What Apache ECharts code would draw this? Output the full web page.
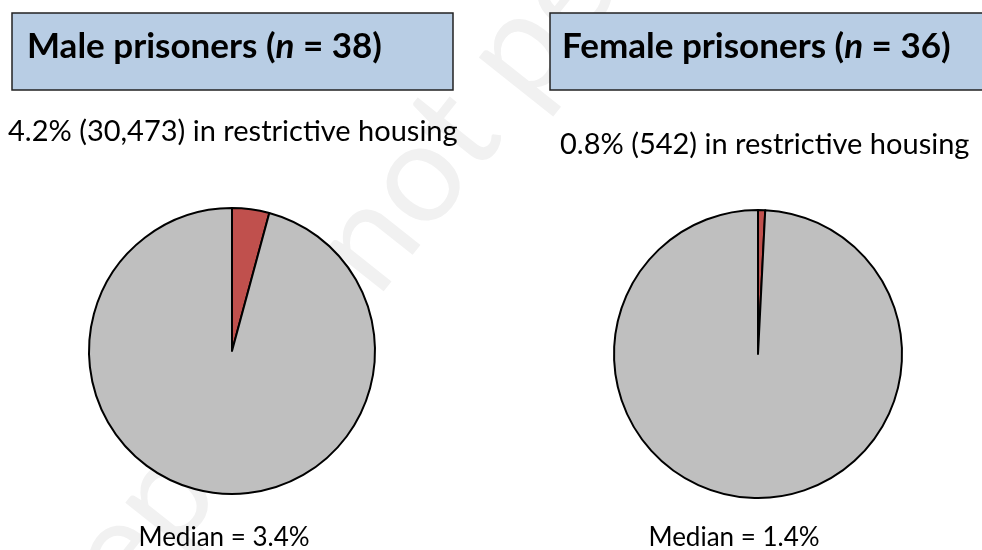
<!DOCTYPE html>
<html>
<head>
<meta charset="utf-8">
<script src="https://cdn.jsdelivr.net/npm/echarts@6/dist/echarts.min.js"></script>
<style>
  html, body { margin: 0; padding: 0; background: #fff; }
  #chart { width: 982px; height: 550px; }
</style>
</head>
<body>
<div id="chart"></div>
<script>
// data
const sliceNames = ['Restrictive housing', 'Other'];
const maleShares = [4.2, 95.8];
const femaleShares = [0.8, 99.2];
const groupNames = ['Male prisoners', 'Female prisoners'];
const groupN = [38, 36];
const subtitles = ['4.2% (30,473) in restrictive housing', '0.8% (542) in restrictive housing'];
const medians = ['Median = 3.4%', 'Median = 1.4%'];

const font = 'Lato, "Open Sans", sans-serif';
const sliceColors = ['#C0504D', '#BFBFBF'];

let myChart = echarts.init(document.getElementById('chart'));

function pieData(vals) {
  return vals.map((v, i) => ({
    name: sliceNames[i],
    value: v,
    itemStyle: { color: sliceColors[i] }
  }));
}

function titleText(i) {
  return {
    text: '{b|' + groupNames[i] + ' (}{i|n}{b| = ' + groupN[i] + ')}',
    padding: 0,
    textStyle: {
      rich: {
        b: { fontFamily: font, fontWeight: 'bold', fontSize: 35, color: '#000' },
        i: { fontFamily: font, fontWeight: 'bold', fontStyle: 'italic', fontSize: 35, color: '#000' }
      }
    }
  };
}

const option = {
  backgroundColor: '#fff',
  animation: false,
  title: [
    Object.assign(titleText(0), { left: 27, top: 29 }),
    Object.assign(titleText(1), { left: 562, top: 29 }),
    { text: subtitles[0], left: 8, top: 117, padding: 0,
      textStyle: { fontFamily: font, fontWeight: 'normal', fontSize: 29, color: '#000' } },
    { text: subtitles[1], left: 560, top: 130, padding: 0,
      textStyle: { fontFamily: font, fontWeight: 'normal', fontSize: 29, color: '#000' } },
    { text: medians[0], left: 224, textAlign: 'center', top: 525, padding: 0,
      textStyle: { fontFamily: font, fontWeight: 'normal', fontSize: 26, color: '#000' } },
    { text: medians[1], left: 734, textAlign: 'center', top: 525, padding: 0,
      textStyle: { fontFamily: font, fontWeight: 'normal', fontSize: 26, color: '#000' } }
  ],
  graphic: [
    // faint preprint watermark
    {
      type: 'text', z: -10, x: -40, y: 640, rotation: 0.9,
      style: { text: 'preprint not peer reviewed', font: '140px ' + font, fill: '#f1f1f1' }
    },
    {
      type: 'rect', z: -5,
      shape: { x: 12, y: 13, width: 441, height: 77 },
      style: { fill: '#B8CDE4', stroke: '#222', lineWidth: 1.5 }
    },
    {
      type: 'rect', z: -5,
      shape: { x: 550, y: 13, width: 440, height: 77 },
      style: { fill: '#B8CDE4', stroke: '#222', lineWidth: 1.5 }
    }
  ],
  series: [
    {
      type: 'pie',
      center: [232, 351],
      radius: 143,
      startAngle: 90,
      clockwise: true,
      label: { show: false },
      labelLine: { show: false },
      emphasis: { disabled: true },
      itemStyle: { borderColor: '#000', borderWidth: 2 },
      data: pieData(maleShares)
    },
    {
      type: 'pie',
      center: [758, 354],
      radius: 144,
      startAngle: 90,
      clockwise: true,
      label: { show: false },
      labelLine: { show: false },
      emphasis: { disabled: true },
      itemStyle: { borderColor: '#000', borderWidth: 2 },
      data: pieData(femaleShares)
    }
  ]
};

myChart.setOption(option);
</script>
</body>
</html>
